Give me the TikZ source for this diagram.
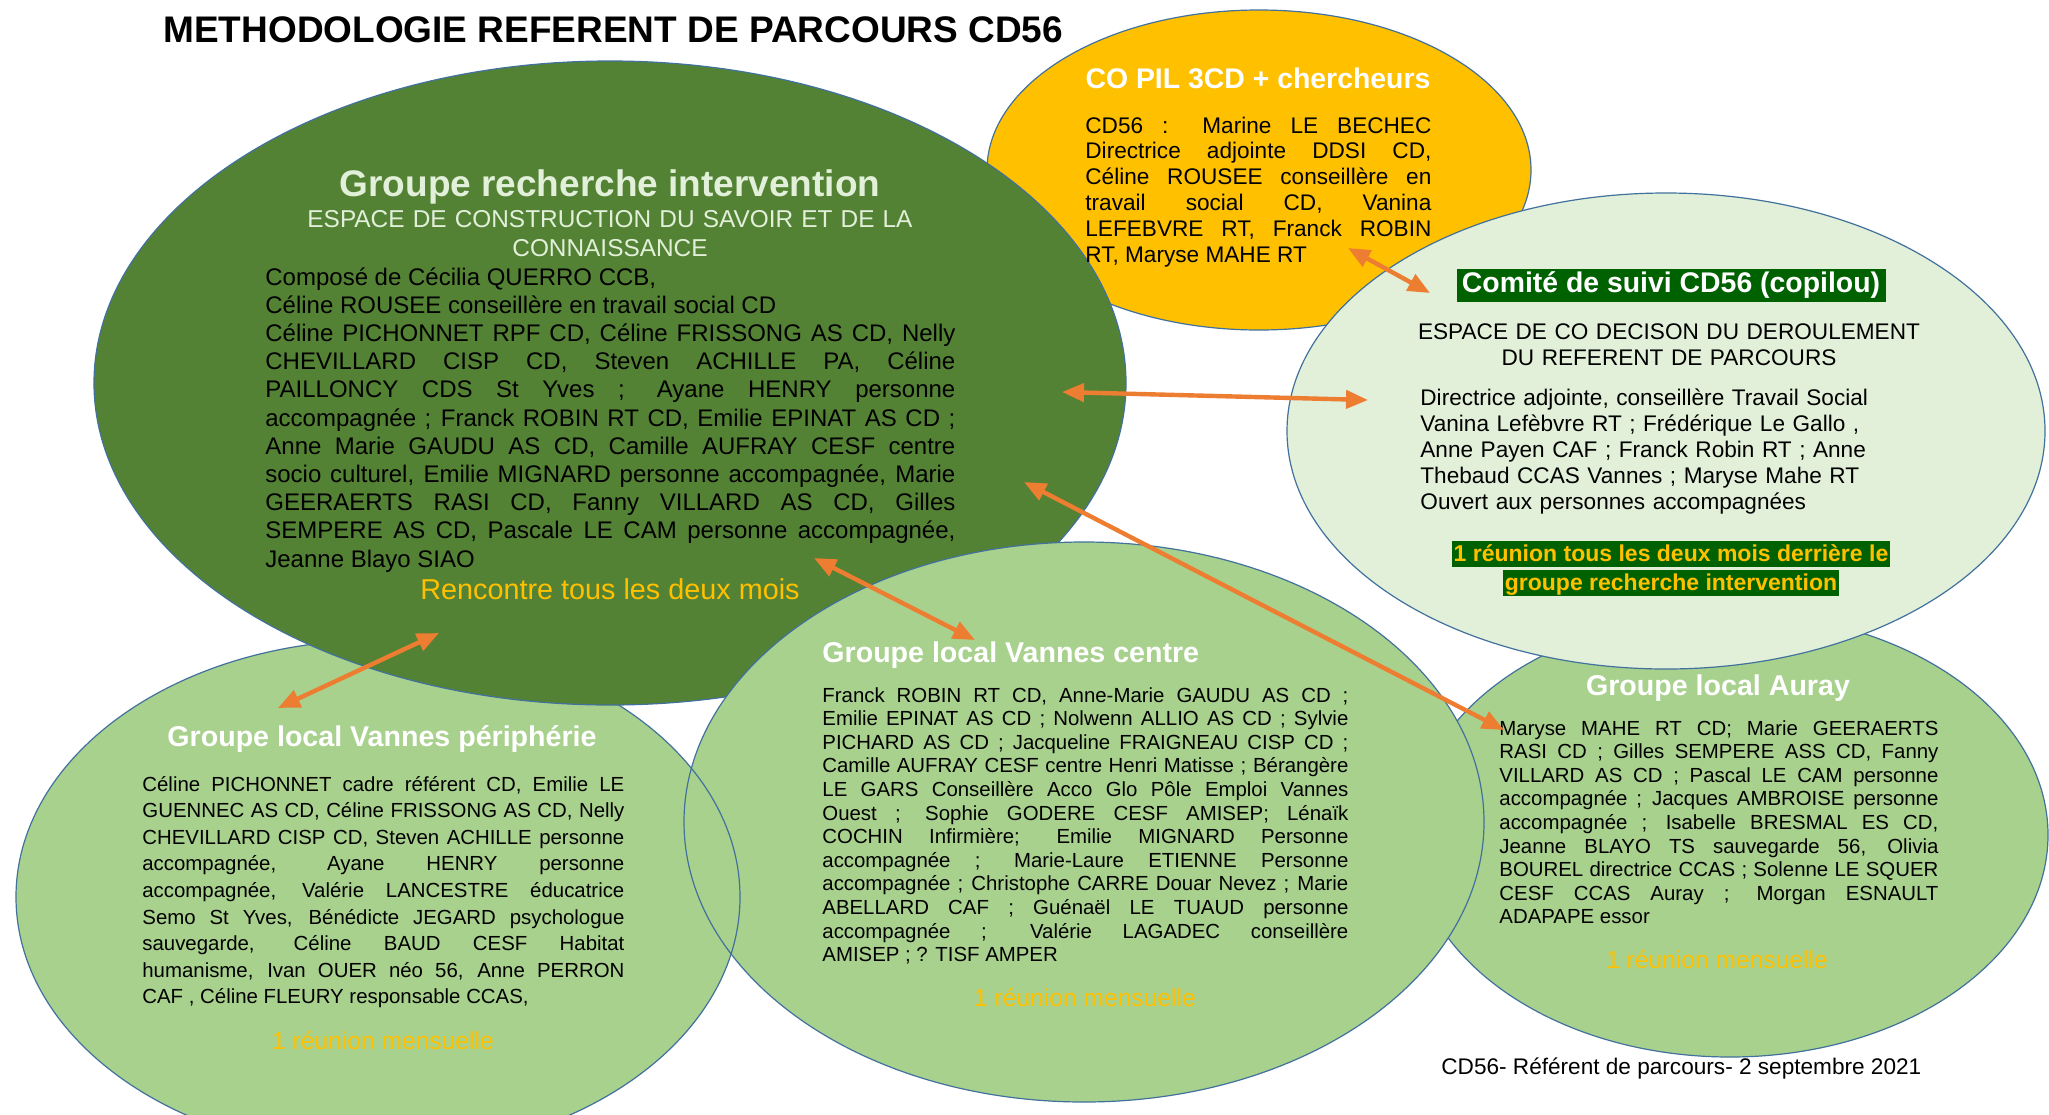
\documentclass[tikz,border=0pt]{standalone}
\usepackage{fontspec}
\setmainfont{Liberation Sans}
\usetikzlibrary{shapes.geometric,arrows.meta}
\tolerance=10000
\hbadness=10000
\begin{document}
\begin{tikzpicture}[x=0.5pt,y=-0.5pt]
        %couleurs
        \definecolor{vertfonce}{HTML}{548235}
        \definecolor{vertclair}{HTML}{A9D18E}
        \definecolor{vertpale}{HTML}{E2F0D9}
        \definecolor{jaune}{HTML}{FFC000}
        \definecolor{orangef}{HTML}{ED7D31}
        \definecolor{bord}{HTML}{41719C}
        \definecolor{surligne}{HTML}{006100}
        \tikzset{
            bulle/.style={ellipse,draw=bord,line width=0.6pt,inner sep=0pt},
            titre/.style={anchor=base,inner sep=0pt,text=white,font=\bfseries\fontsize{14.3}{17}\selectfont},
            corps/.style={anchor=base west,inner sep=0pt,align=justify},
            reunion/.style={anchor=base,inner sep=0pt,text=jaune,font=\fontsize{12.3}{14}\selectfont},
            marque/.style={fill=surligne,text=jaune,inner xsep=1pt,inner ysep=0pt,text height=10pt,text depth=3pt,font=\bfseries\fontsize{11.5}{13}\selectfont},
            lien/.style={{Triangle[length=11pt,width=9pt]}-{Triangle[length=11pt,width=9pt]},draw=orangef,line width=2.2pt}
        }
        \fill[white] (0,0) rectangle (2049,1114);
        \useasboundingbox (0,0) rectangle (2049,1114);

        % Bulles
        \node[bulle,fill=jaune,minimum width=272pt,minimum height=160pt] (copil) at (1259,170) {};
        \node[bulle,fill=vertclair,minimum width=362pt,minimum height=257pt] (peri) at (378,897) {};
        \node[bulle,fill=vertfonce,minimum width=516pt,minimum height=322pt] (gri) at (610,383) {};
        \node[bulle,fill=vertclair,minimum width=318pt,minimum height=222pt] (auray) at (1730,835) {};
        \node[bulle,fill=vertpale,minimum width=379pt,minimum height=238pt] (comite) at (1666,431) {};
        \node[bulle,fill=vertclair,minimum width=400pt,minimum height=280pt] (centre) at (1084,822) {};
        % bord de la bulle peripherie vu sous la bulle centre
        \begin{scope}
            \clip (centre.center) ellipse [x radius=200pt,y radius=140pt];
            \draw[bord,line width=0.6pt] (peri.center) ellipse [x radius=181pt,y radius=128.5pt];
        \end{scope}

        % Titre
        \node[anchor=base west,inner sep=0pt,font=\bfseries\fontsize{18.5}{22}\selectfont] (titre) at (163,42) {METHODOLOGIE REFERENT DE PARCOURS CD56};

        % Groupe recherche intervention
        \node[titre,text=vertpale,font=\bfseries\fontsize{18.5}{22}\selectfont] (grititre) at (610,196) {Groupe recherche intervention};
        \node[anchor=base,inner sep=0pt,text width=330pt,align=center,text=vertpale,font=\fontsize{12.2}{14.5}\selectfont] (griespace) at (610,227) {ESPACE DE CONSTRUCTION DU SAVOIR ET DE LA\\CONNAISSANCE};
        \node[corps,text width=345pt,font=\fontsize{12}{14.1}\selectfont] (gricorps) at (265,285) {Composé de Cécilia QUERRO CCB,\\
            Céline ROUSEE conseillère en travail social CD\\
            Céline PICHONNET RPF CD, Céline FRISSONG AS CD, Nelly\linebreak
            CHEVILLARD CISP CD, Steven ACHILLE PA, Céline\linebreak
            PAILLONCY CDS St Yves ; Ayane HENRY personne\linebreak
            accompagnée ; Franck ROBIN RT CD, Emilie EPINAT AS CD ;\linebreak
            Anne Marie GAUDU AS CD, Camille AUFRAY CESF centre\linebreak
            socio culturel, Emilie MIGNARD personne accompagnée, Marie\linebreak
            GEERAERTS RASI CD, Fanny VILLARD AS CD, Gilles\linebreak
            SEMPERE AS CD, Pascale LE CAM personne accompagnée,\linebreak
            Jeanne Blayo SIAO};
        \node[reunion,font=\fontsize{14.4}{17}\selectfont] (grireunion) at (610,599) {Rencontre tous les deux mois};

        % CO PIL
        \node[titre,font=\bfseries\fontsize{14.2}{17}\selectfont] (copiltitre) at (1258,88) {CO PIL 3CD + chercheurs};
        \node[corps,text width=173pt,font=\fontsize{11.3}{12.9}\selectfont] (copilcorps) at (1085,133) {CD56 : Marine LE BECHEC\linebreak
            Directrice adjointe DDSI CD,\linebreak
            Céline ROUSEE conseillère en\linebreak
            travail social CD, Vanina\linebreak
            LEFEBVRE RT, Franck ROBIN\linebreak
            RT, Maryse MAHE RT};

        % Comite de suivi
        \node[fill=surligne,text=white,inner sep=0pt,minimum width=214.5pt,minimum height=16.5pt,font=\bfseries\fontsize{14.2}{17}\selectfont] (comtitre) at (1671,285) {Comité de suivi CD56 (copilou)};
        \node[anchor=base,inner sep=0pt,text width=280pt,align=center,font=\fontsize{11.3}{13}\selectfont] (comespace) at (1669,339) {ESPACE DE CO DECISON DU DEROULEMENT\\DU REFERENT DE PARCOURS};
        \node[anchor=base west,inner sep=0pt,text width=250pt,align=left,font=\fontsize{11.3}{13.05}\selectfont] (comcorps) at (1420,405) {Directrice adjointe, conseillère Travail Social\\
            Vanina Lefèbvre RT ;  Frédérique Le Gallo ,\\
            Anne Payen CAF ; Franck Robin RT ; Anne\\
            Thebaud CCAS Vannes ; Maryse Mahe RT\\
            Ouvert aux personnes accompagnées};
        \node[marque] (commarque1) at (1671,554) {1 réunion tous les deux mois derrière le};
        \node[marque] (commarque2) at (1671,583) {groupe recherche intervention};

        % Groupe local Vannes peripherie
        \node[titre] (perititre) at (382,746) {Groupe local Vannes périphérie};
        \node[corps,text width=241pt,font=\fontsize{10.2}{13.3}\selectfont] (pericorps) at (142,791) {Céline PICHONNET cadre référent CD, Emilie LE\linebreak
            GUENNEC AS CD, Céline FRISSONG AS CD, Nelly\linebreak
            CHEVILLARD CISP CD, Steven ACHILLE personne\linebreak
            accompagnée, Ayane HENRY personne\linebreak
            accompagnée, Valérie LANCESTRE éducatrice\linebreak
            Semo St Yves, Bénédicte JEGARD psychologue\linebreak
            sauvegarde, Céline BAUD CESF Habitat\linebreak
            humanisme, Ivan OUER néo 56, Anne PERRON\linebreak
            CAF , Céline FLEURY responsable CCAS,};

        % Groupe local Vannes centre
        \node[titre,anchor=base west] (centretitre) at (822,662) {Groupe local Vannes centre};
        \node[corps,text width=263pt,font=\fontsize{10.2}{11.8}\selectfont] (centrecorps) at (822,702) {Franck ROBIN RT CD, Anne-Marie GAUDU AS CD ;\linebreak
            Emilie EPINAT AS CD ; Nolwenn ALLIO AS CD ; Sylvie\linebreak
            PICHARD AS CD ; Jacqueline FRAIGNEAU CISP CD ;\linebreak
            Camille AUFRAY CESF centre Henri Matisse ; Bérangère\linebreak
            LE GARS Conseillère Acco Glo Pôle Emploi Vannes\linebreak
            Ouest ; Sophie GODERE CESF AMISEP; Lénaïk\linebreak
            COCHIN Infirmière; Emilie MIGNARD Personne\linebreak
            accompagnée ; Marie-Laure ETIENNE Personne\linebreak
            accompagnée ; Christophe CARRE Douar Nevez ; Marie\linebreak
            ABELLARD CAF ; Guénaël LE TUAUD personne\linebreak
            accompagnée ; Valérie LAGADEC conseillère\linebreak
            AMISEP ; ? TISF AMPER};

        % Groupe local Auray
        \node[titre] (auraytitre) at (1718,695) {Groupe local Auray};
        \node[corps,text width=219.5pt,font=\fontsize{10.2}{11.8}\selectfont] (auraycorps) at (1499,735) {Maryse MAHE RT CD; Marie GEERAERTS\linebreak
            RASI CD ; Gilles SEMPERE ASS CD, Fanny\linebreak
            VILLARD AS CD ; Pascal LE CAM personne\linebreak
            accompagnée ; Jacques AMBROISE personne\linebreak
            accompagnée ; Isabelle BRESMAL ES CD,\linebreak
            Jeanne BLAYO TS sauvegarde 56, Olivia\linebreak
            BOUREL directrice CCAS ; Solenne LE SQUER\linebreak
            CESF CCAS Auray ; Morgan ESNAULT\linebreak
            ADAPAPE essor};

        % reunions mensuelles
        \foreach \nom/\x/\y in {perireunion/383/1049,centrereunion/1085/1006,aurayreunion/1717/968}
            \node[reunion] (\nom) at (\x,\y) {1 réunion mensuelle};

        % Pied de page
        \node[anchor=base west,inner sep=0pt,font=\fontsize{11.3}{13}\selectfont] (pied) at (1441,1074) {CD56- Référent de parcours- 2 septembre 2021};

        % Fleches
        \coordinate (copilbout) at (1348,248);
        \coordinate (comitehaut) at (1430,293);
        \coordinate (grigauche) at (1062,392);
        \coordinate (comitegauche) at (1368,400);
        \coordinate (gribas) at (1024,482);
        \coordinate (auraybout) at (1504,730);
        \coordinate (grisud) at (439,633);
        \coordinate (peribout) at (278,708);
        \coordinate (grimilieu) at (814,558);
        \coordinate (centrebout) at (975,640);
        \foreach \a/\b in {copilbout/comitehaut,grigauche/comitegauche,gribas/auraybout,grisud/peribout,grimilieu/centrebout}
            \draw[lien] (\a) -- (\b);
\end{tikzpicture}
\end{document}
